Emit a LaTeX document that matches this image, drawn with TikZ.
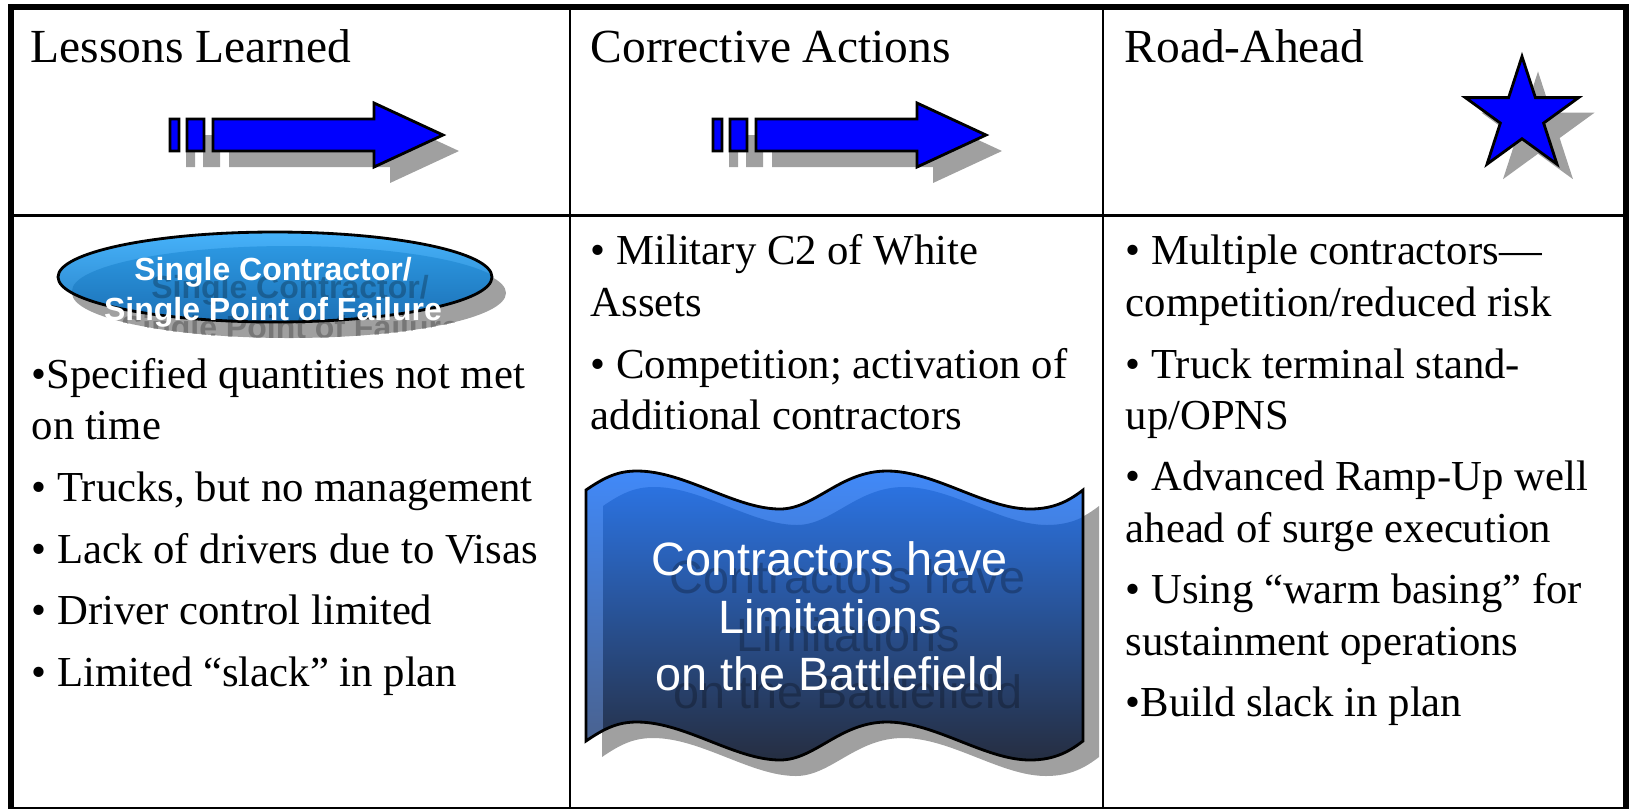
\documentclass[tikz,border=0pt]{standalone}
\usepackage{fontspec}
\setmainfont{Liberation Serif}
\newfontfamily\arialfont{Liberation Sans}
\usetikzlibrary{shapes.geometric}

\definecolor{arrowblue}{HTML}{0000FF}
\definecolor{shadowgray}{HTML}{A0A0A0}
\definecolor{ovallight}{HTML}{46B2FA}
\definecolor{ovaltop}{HTML}{2C98E2}
\definecolor{ovalbottom}{HTML}{1A6AAE}
\definecolor{flaglight}{HTML}{4189F8}
\definecolor{flaglow}{HTML}{4A5F88}
\definecolor{flagtop}{HTML}{2B72E0}
\definecolor{flagmid}{HTML}{2A549E}
\definecolor{flagbottom}{HTML}{252A38}

\newcommand\arrowpath{(170,119) rectangle (179,151) (187,119) rectangle (204,151)
  (213,119) -- (374,119) -- (374,103) -- (443,135) -- (374,167) -- (374,151) -- (213,151) -- cycle}
\newcommand\flagpath{(586,490) .. controls (605,477) and (618,471) .. (637,471)
  .. controls (685,471) and (735,509) .. (780,509) .. controls (815,509) and (840,471) .. (887,471)
  .. controls (935,471) and (985,509) .. (1030,509) .. controls (1055,509) and (1070,500) .. (1083,490)
  -- (1083,741) .. controls (1070,751) and (1055,760) .. (1030,760)
  .. controls (985,760) and (935,722) .. (887,722) .. controls (840,722) and (815,760) .. (780,760)
  .. controls (735,760) and (685,722) .. (637,722) .. controls (618,722) and (605,728) .. (586,741) -- cycle}
\newcommand\ovalpath{(275,277) ellipse [x radius=217, y radius=45]}

\tikzset{
  head/.style={anchor=base west, inner sep=0pt, font=\fontsize{13.5}{16}\selectfont},
  item/.style={anchor=base west, inner sep=0pt, font=\fontsize{12.15}{14}\selectfont},
  ovaltext/.style={anchor=base, inner sep=0pt, text=white, font=\arialfont\bfseries\fontsize{9.1}{11}\selectfont},
  flagtext/.style={anchor=base, inner sep=0pt, text=white, font=\arialfont\fontsize{13.3}{16}\selectfont},
  ghost/.style={text=black, text opacity=0.25},
  starshape/.style={star, star points=5, star point ratio=2.618, minimum size=1.19cm, inner sep=0pt}
}

\begin{document}
\begin{tikzpicture}[x=0.01cm, y=-0.01cm]
  \useasboundingbox (0,0) rectangle (1632,808);

  % table
  \draw[line width=1.7pt] (11,7) rectangle (1626,810);
  \draw[line width=0.85pt] (570,7) -- (570,808) (1103,7) -- (1103,808) (11,215) -- (1626,215);

  % headings
  \node[head] (lessons) at (30,62) {Lessons Learned};
  \node[head] (actions) at (590,62) {Corrective Actions};
  \node[head] (road) at (1124,62) {Road-Ahead};

  % arrows
  \foreach \dx in {0,543} {
    \fill[shadowgray, shift={(\dx+16,16)}] \arrowpath;
    \filldraw[fill=arrowblue, line width=0.8pt, shift={(\dx,0)}] \arrowpath;
  }

  % star
  \node[starshape, fill=shadowgray] (starshadow) at (1538,131) {};
  \node[starshape, fill=arrowblue, draw=black, line width=0.8pt] (star) at (1522,116) {};

  % oval
  \fill[shadowgray, shift={(14,16)}] \ovalpath;
  \begin{scope}
    \clip \ovalpath;
    \shade[top color=ovallight, bottom color=ovalbottom!70!ovallight] \ovalpath;
    \shade[top color=ovaltop, bottom color=ovalbottom, shift={(14,14)}] \ovalpath;
  \end{scope}
  \draw[line width=0.8pt] \ovalpath;
  \begin{scope}
    \clip[shift={(14,16)}] \ovalpath;
    \node[ovaltext, ghost] (oval-ghost-1) at (290,298) {Single Contractor/};
    \node[ovaltext, ghost] (oval-ghost-2) at (290,338) {Single Point of Failure};
  \end{scope}
  \node[ovaltext] (oval-1) at (273,280) {Single Contractor/};
  \node[ovaltext] (oval-2) at (273,320) {Single Point of Failure};

  % flag
  \fill[shadowgray, shift={(16,16)}] \flagpath;
  \begin{scope}
    \clip \flagpath;
    \shade[top color=flaglight, bottom color=flaglow] \flagpath;
    \shade[top color=flagtop, middle color=flagmid, bottom color=flagbottom, shift={(17,16)}] \flagpath;
  \end{scope}
  \draw[line width=0.8pt] \flagpath;
  \foreach \y/\t [count=\i] in {575/{Contractors have}, 633/{Limitations}, 690/{on the Battlefield}} {
    \node[flagtext, ghost] (flag-ghost-\i) at (848,\y+18) {\t};
    \node[flagtext] (flag-\i) at (830,\y) {\t};
  }

  % lessons learned
  \foreach \y/\t [count=\i] in {388/{•Specified quantities not met}, 439/{on time},
      501/{• Trucks, but no management}, 563/{• Lack of drivers due to Visas},
      624/{• Driver control limited}, 686/{• Limited “slack” in plan}}
    \node[item] (lessons-\i) at (31,\y) {\t};

  % corrective actions
  \foreach \y/\t [count=\i] in {264/{• Military C2 of White}, 316/{Assets},
      378/{• Competition; activation of}, 429/{additional contractors}}
    \node[item] (actions-\i) at (590,\y) {\t};

  % road-ahead
  \foreach \y/\t [count=\i] in {264/{• Multiple contractors—}, 316/{competition/reduced risk},
      378/{• Truck terminal stand-}, 429/{up/OPNS},
      490/{• Advanced Ramp-Up well}, 542/{ahead of surge execution},
      603/{• Using “warm basing” for}, 655/{sustainment operations},
      716/{•Build slack in plan}}
    \node[item] (road-\i) at (1125,\y) {\t};
\end{tikzpicture}
\end{document}
